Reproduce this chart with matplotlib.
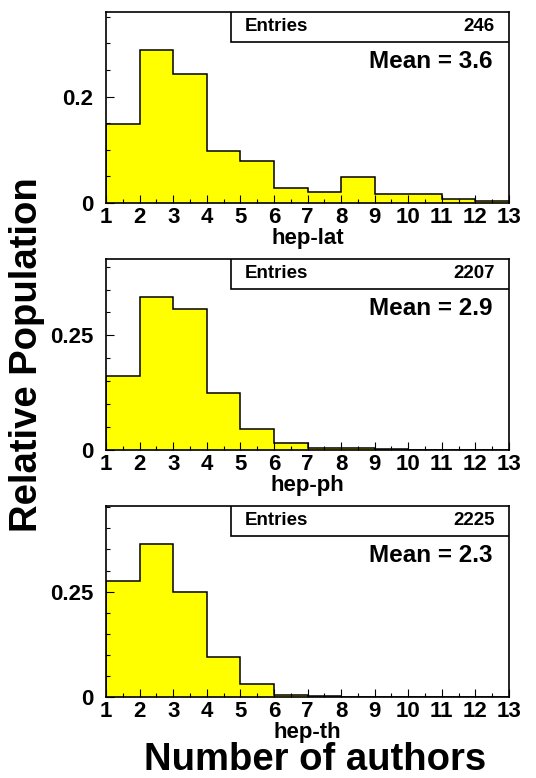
import numpy as np
import matplotlib
matplotlib.use("Agg")
import matplotlib.pyplot as plt
from matplotlib.patches import Rectangle
from matplotlib.ticker import MultipleLocator

plt.rcParams["font.family"] = ["Liberation Sans", "DejaVu Sans"]
plt.rcParams["font.weight"] = "bold"

# bin edges: number of authors 1..13
edges = np.arange(1, 14)

# relative population per bin
hep_lat = [0.148, 0.288, 0.243, 0.0987, 0.0786, 0.029, 0.0207, 0.0497, 0.0163, 0.0163, 0.007, 0.0038]
hep_ph = [0.161, 0.334, 0.308, 0.124, 0.045, 0.0154, 0.005, 0.004, 0.0012, 0.0008, 0.0006, 0.0005]
hep_th = [0.275, 0.363, 0.250, 0.096, 0.031, 0.004, 0.003, 0.0, 0.0, 0.0, 0.0, 0.0]

names = ["hep-lat", "hep-ph", "hep-th"]
entries = [246, 2207, 2225]
means = [3.6, 2.9, 2.3]
y_tops = [0.359, 0.4167, 0.453]
y_major = [0.2, 0.25, 0.25]

fig = plt.figure(figsize=(5.36, 7.78), dpi=100)

bottoms = [0.739, 0.4216, 0.1041]
for i, vals in enumerate([hep_lat, hep_ph, hep_th]):
    ax = fig.add_axes([0.1978, bottoms[i], 0.7519, 0.2455])
    ax.stairs(vals, edges, fill=True, color="#ffff00", zorder=1)
    ax.stairs(vals, edges, color="black", lw=1.1, zorder=2)
    ax.set_xlim(1, 13)
    ax.set_ylim(0, y_tops[i])

    ax.xaxis.set_major_locator(MultipleLocator(1))
    ax.xaxis.set_minor_locator(MultipleLocator(0.5))
    ax.yaxis.set_major_locator(MultipleLocator(y_major[i]))
    ax.yaxis.set_minor_locator(MultipleLocator(0.05))
    ax.yaxis.set_major_formatter(plt.FuncFormatter(lambda v, p: "0" if v == 0 else f"{v:g}"))
    ax.tick_params(which="both", direction="in", top=False, right=False,
                   width=0.8, labelsize=16)
    ax.tick_params(which="major", length=6)
    ax.tick_params(which="minor", length=3)
    ax.tick_params(axis="x", pad=3)
    ax.tick_params(axis="y", pad=9)
    for s in ax.spines.values():
        s.set_linewidth(1.2)
        s.set_zorder(3)

    ax.set_xlabel(names[i], fontsize=16, fontweight="bold", labelpad=0)

    # stats box
    ax.add_patch(Rectangle((0.309, 0.845), 0.691, 0.155, transform=ax.transAxes,
                           facecolor="white", edgecolor="black", lw=1.2, zorder=4))
    ax.text(0.345, 0.922, "Entries", transform=ax.transAxes, fontsize=13.5,
            fontweight="bold", ha="left", va="center", zorder=5)
    ax.text(0.965, 0.922, str(entries[i]), transform=ax.transAxes, fontsize=13.5,
            fontweight="bold", ha="right", va="center", zorder=5)
    ax.text(0.960, 0.741, f"Mean = {means[i]}", transform=ax.transAxes, fontsize=17.5,
            fontweight="bold", ha="right", va="center", zorder=5)

fig.text(0.05, 0.544, "Relative Population", rotation=90, fontsize=27.5,
         fontweight="bold", ha="center", va="center")
fig.text(0.588, 0.0, "Number of authors", fontsize=27.5,
         fontweight="bold", ha="center", va="bottom")

fig.savefig("out.png", dpi=100)
